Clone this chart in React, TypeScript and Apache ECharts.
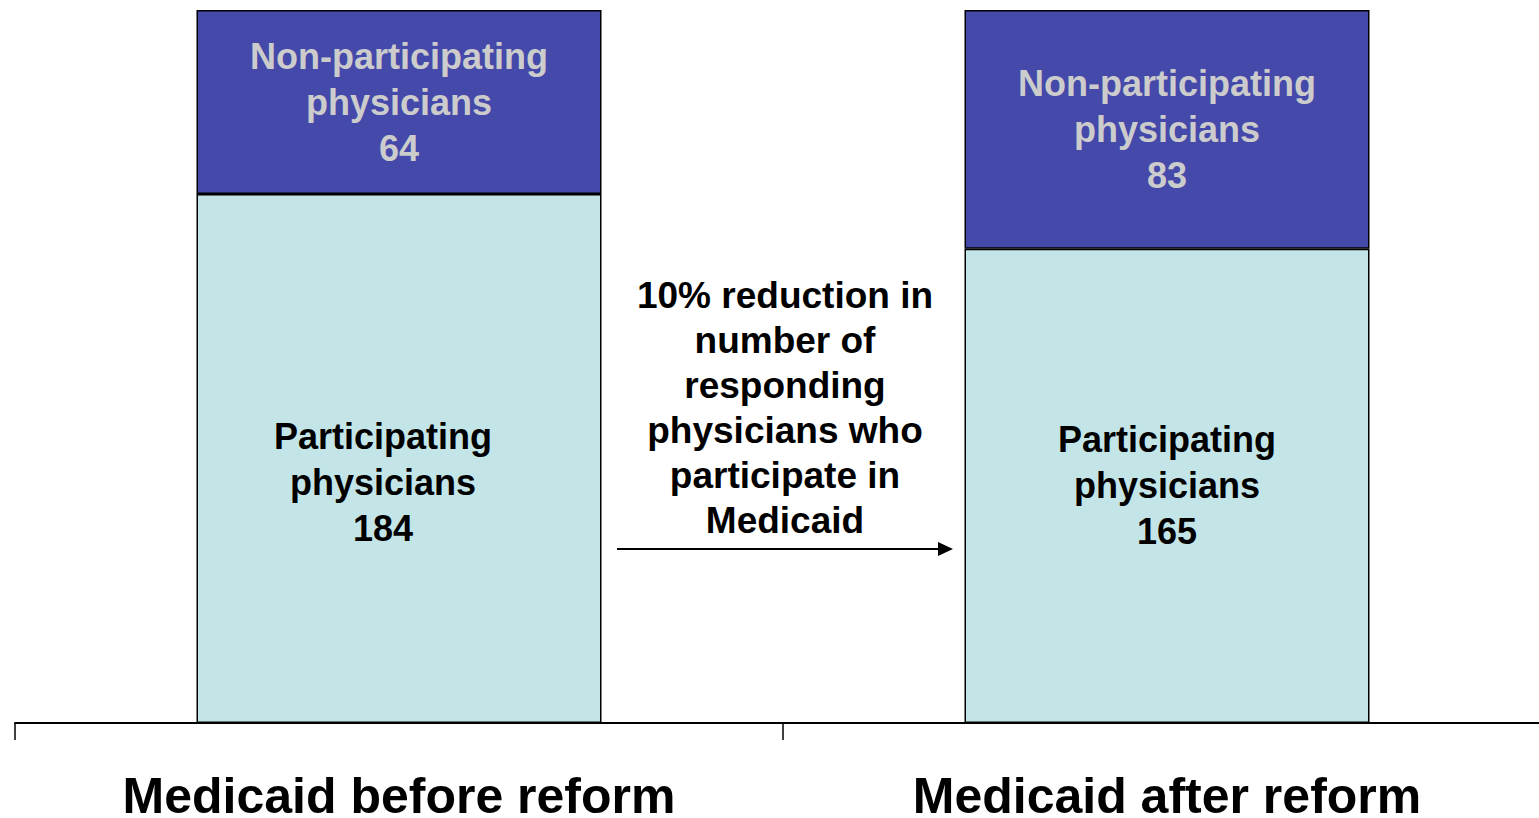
import React, { useEffect, useRef } from "react";
import * as echarts from "echarts";

const categories = ["Medicaid before reform", "Medicaid after reform"];
const participating = [184, 165];
const nonParticipating = [64, 83];
const participatingName = "Participating\nphysicians";
const nonParticipatingName = "Non-participating\nphysicians";
const annotationText = "10% reduction in\nnumber of\nresponding\nphysicians who\nparticipate in\nMedicaid";

const FONT = "'Liberation Sans', Arial, Helvetica, sans-serif";

export default function App() {
  const ref = useRef<HTMLDivElement>(null);
  useEffect(() => {
    if (!ref.current) return;
    const chart = echarts.init(ref.current, null, { renderer: "svg" });
    const option: any = {
      animation: false,
      backgroundColor: "#ffffff",
      grid: {
        left: 15,
        top: 10,
        width: 1536,
        height: 713,
        containLabel: false,
        outerBoundsMode: "none",
      },
      xAxis: {
        type: "category",
        data: categories,
        axisLine: { show: true, lineStyle: { color: "#000", width: 2 } },
        axisTick: { show: true, length: 17, lineStyle: { color: "#000", width: 1.5 } },
        axisLabel: {
          color: "#000",
          fontFamily: FONT,
          fontWeight: "bold",
          fontSize: 50,
          lineHeight: 40,
          margin: 53,
          interval: 0,
        },
      },
      yAxis: {
        type: "value",
        min: 0,
        max: participating[0] + nonParticipating[0],
        show: false,
        splitLine: { show: false },
      },
      series: [
        {
          name: participatingName,
          type: "bar",
          stack: "total",
          barWidth: 405,
          itemStyle: { color: "#c3e5e8", borderColor: "#000", borderWidth: 1.5 },
          label: {
            show: true,
            position: "inside",
            color: "#000",
            fontFamily: FONT,
            fontWeight: "bold",
            fontSize: 36,
            lineHeight: 46,
            formatter: (p: any) => `${participatingName}\n${p.value}`,
          },
          data: participating.map((v, i) =>
            i === 0 ? { value: v, label: { offset: [-16, 24] } } : { value: v }
          ),
        },
        {
          name: nonParticipatingName,
          type: "bar",
          stack: "total",
          barWidth: 405,
          itemStyle: { color: "#4449aa", borderColor: "#000", borderWidth: 1.5 },
          label: {
            show: true,
            position: "inside",
            color: "#cccccc",
            fontFamily: FONT,
            fontWeight: "bold",
            fontSize: 36,
            lineHeight: 46,
            formatter: (p: any) => `${nonParticipatingName}\n${p.value}`,
          },
          data: nonParticipating,
        },
      ],
      graphic: [
        {
          type: "text",
          x: 785,
          y: 408,
          style: {
            text: annotationText,
            fill: "#000",
            font: `bold 37px ${FONT}`,
            lineHeight: 45,
            align: "center",
            verticalAlign: "middle",
          },
        },
        {
          type: "line",
          shape: { x1: 617, y1: 549, x2: 940, y2: 549 },
          style: { stroke: "#000", lineWidth: 2 },
        },
        {
          type: "polygon",
          shape: { points: [[938, 542], [953, 549], [938, 556]] },
          style: { fill: "#000" },
        },
      ],
    };
    chart.setOption(option);
    return () => chart.dispose();
  }, []);
  return (
    <div
      style={{
        position: "fixed",
        left: 0,
        top: 0,
        width: 1539,
        height: 818,
        overflow: "hidden",
        background: "#fff",
      }}
    >
      <div ref={ref} style={{ width: 1560, height: 818 }} />
    </div>
  );
}
